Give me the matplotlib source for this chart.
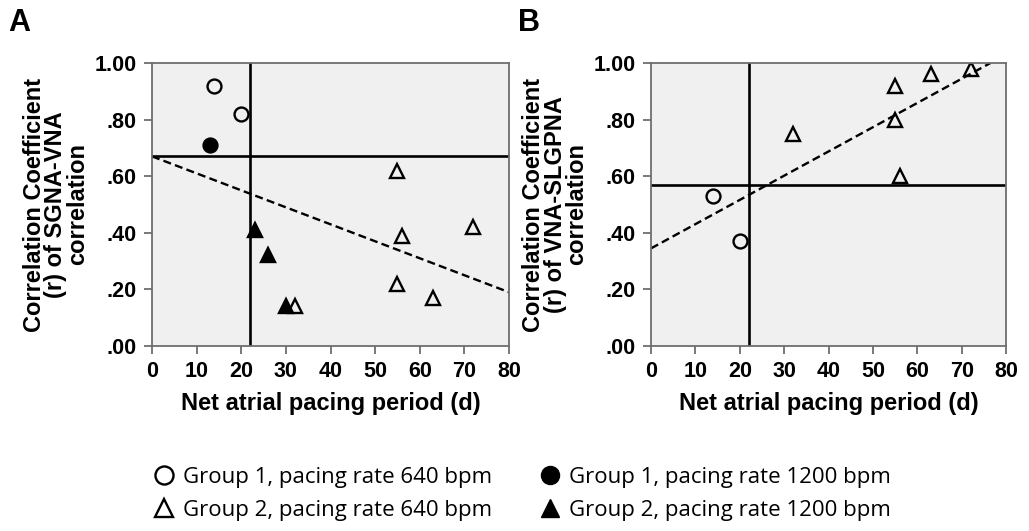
import matplotlib.pyplot as plt
from matplotlib.lines import Line2D

# panel A: SGNA-VNA
a_open_circ_x = [14, 20]
a_open_circ_y = [0.92, 0.82]
a_fill_circ_x = [13]
a_fill_circ_y = [0.71]
a_open_tri_x = [55, 56, 72, 55, 63, 32]
a_open_tri_y = [0.62, 0.39, 0.42, 0.22, 0.17, 0.14]
a_fill_tri_x = [23, 26, 30]
a_fill_tri_y = [0.41, 0.32, 0.14]
a_hline = 0.67
a_vline = 22
a_fit_x = [0, 80]
a_fit_y = [0.67, 0.19]

# panel B: VNA-SLGPNA
b_open_circ_x = [14, 20]
b_open_circ_y = [0.53, 0.37]
b_open_tri_x = [32, 55, 63, 72, 55, 56]
b_open_tri_y = [0.75, 0.92, 0.96, 0.98, 0.80, 0.60]
b_hline = 0.57
b_vline = 22
b_fit_x = [0, 76.5]
b_fit_y = [0.345, 1.0]

xticks = [0, 10, 20, 30, 40, 50, 60, 70, 80]
yticks = [0, 0.2, 0.4, 0.6, 0.8, 1.0]
yticklabels = ['.00', '.20', '.40', '.60', '.80', '1.00']

lab_font = 'Liberation Sans'
frame = '#6e6e6e'

fig = plt.figure(figsize=(10.29, 5.31), dpi=100)
ax_a = fig.add_axes([0.1477, 0.3484, 0.347, 0.533])
ax_b = fig.add_axes([0.6327, 0.3484, 0.345, 0.533])

ms = 10
mew = 1.7


def style(ax, ylabel):
    ax.set_facecolor('#f0f0f0')
    ax.set_xlim(0, 80)
    ax.set_ylim(0, 1.0)
    ax.set_xticks(xticks)
    ax.set_yticks(yticks)
    ax.set_yticklabels(yticklabels)
    for s in ax.spines.values():
        s.set_color(frame)
        s.set_linewidth(1.3)
    ax.tick_params(length=6, width=1.3, color=frame, labelsize=15.5, pad=5)
    for t in ax.get_xticklabels() + ax.get_yticklabels():
        t.set_fontfamily(lab_font)
        t.set_fontweight('bold')
    ax.set_xlabel('Net atrial pacing period (d)', fontsize=17, fontweight='bold',
                  fontfamily=lab_font, labelpad=7)
    ax.set_ylabel(ylabel, fontsize=17, fontweight='bold', fontfamily=lab_font,
                  labelpad=4, linespacing=0.92)


# A
ax_a.axhline(a_hline, color='black', lw=1.9)
ax_a.axvline(a_vline, color='black', lw=1.9)
ax_a.plot(a_fit_x, a_fit_y, color='black', lw=1.7, ls=(0, (3.4, 1.8)))
ax_a.plot(a_open_circ_x, a_open_circ_y, 'o', ms=ms, mfc='none', mec='black', mew=mew)
ax_a.plot(a_fill_circ_x, a_fill_circ_y, 'o', ms=ms, mfc='black', mec='black', mew=mew)
ax_a.plot(a_open_tri_x, a_open_tri_y, '^', ms=ms, mfc='none', mec='black', mew=mew)
ax_a.plot(a_fill_tri_x, a_fill_tri_y, '^', ms=ms, mfc='black', mec='black', mew=mew)
style(ax_a, 'Correlation Coefficient\n(r) of SGNA-VNA\ncorrelation')

# B
ax_b.axhline(b_hline, color='black', lw=1.9)
ax_b.axvline(b_vline, color='black', lw=1.9)
ax_b.plot(b_fit_x, b_fit_y, color='black', lw=1.7, ls=(0, (3.4, 1.8)))
ax_b.plot(b_open_circ_x, b_open_circ_y, 'o', ms=ms, mfc='none', mec='black', mew=mew)
ax_b.plot(b_open_tri_x, b_open_tri_y, '^', ms=ms, mfc='none', mec='black', mew=mew)
style(ax_b, 'Correlation Coefficient\n(r) of VNA-SLGPNA\ncorrelation')

fig.text(0.008, 0.985, 'A', fontsize=22, fontweight='bold', fontfamily=lab_font, va='top')
fig.text(0.503, 0.985, 'B', fontsize=22, fontweight='bold', fontfamily=lab_font, va='top')

handles = [
    Line2D([], [], ls='none', marker='o', ms=13, mfc='none', mec='black', mew=1.7),
    Line2D([], [], ls='none', marker='^', ms=13, mfc='none', mec='black', mew=1.7),
    Line2D([], [], ls='none', marker='o', ms=13, mfc='black', mec='black'),
    Line2D([], [], ls='none', marker='^', ms=13, mfc='black', mec='black'),
]
labels = ['Group 1, pacing rate 640 bpm', 'Group 2, pacing rate 640 bpm',
          'Group 1, pacing rate 1200 bpm', 'Group 2, pacing rate 1200 bpm']
fig.legend(handles, labels, ncol=2, frameon=False, loc='center',
           bbox_to_anchor=(0.508, 0.07), prop={'family': 'Open Sans', 'size': 16},
           handlelength=0.8, handletextpad=0.45, columnspacing=2.2, labelspacing=0.55)

fig.savefig('out.png', dpi=100)
